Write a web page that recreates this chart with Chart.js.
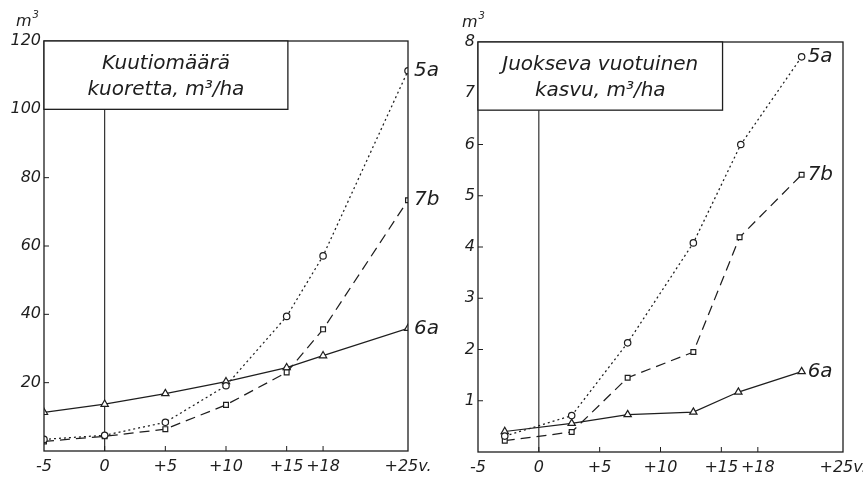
<!DOCTYPE html>
<html><head><meta charset="utf-8">
<script src="https://cdn.jsdelivr.net/npm/chart.js@4.4.1/dist/chart.umd.min.js"></script>
<style>
html,body{margin:0;padding:0;background:#fff;overflow:hidden;width:863px;height:479px}
#wrap{position:relative;width:863px;height:479px;overflow:hidden}
canvas{position:absolute;top:0}
#c1{left:0}
#c2{left:420px}
</style></head><body>
<div id="wrap">
<canvas id="c1" width="450" height="479"></canvas>
<canvas id="c2" width="443" height="479"></canvas>
</div>
<script>
// ---------- data ----------
const xTicks = [-5, 0, 5, 10, 15, 18, 25];
const xTickLabels = ['-5', '0', '+5', '+10', '+15', '+18', '+25v.'];
const seriesNames = ['5a', '7b', '6a'];

// left panel: Kuutiomäärä kuoretta, m³/ha
const leftTitle = ['Kuutiomäärä', 'kuoretta, m³/ha'];
const leftX = [-5, 0, 5, 10, 15, 18, 25];
const left5a = [3.4, 4.6, 8.4, 19.1, 39.4, 57.1, 111.3];
const left7b = [2.8, 4.3, 6.4, 13.5, 23.0, 35.6, 73.4];
const left6a = [11.3, 13.7, 16.8, 20.3, 24.4, 27.9, 35.9];
const leftYTicks = [20, 40, 60, 80, 100, 120];

// right panel: Juokseva vuotuinen kasvu, m³/ha
const rightTitle = ['Juokseva vuotuinen', 'kasvu, m³/ha'];
const rightX5a = [-2.8, 2.7, 7.3, 12.7, 16.6, 21.6];
const rightX7b = [-2.8, 2.7, 7.3, 12.7, 16.5, 21.6];
const rightX6a = [-2.8, 2.7, 7.3, 12.7, 16.4, 21.6];
const right5a = [0.31, 0.71, 2.13, 4.08, 6.0, 7.71];
const right7b = [0.22, 0.39, 1.45, 1.95, 4.19, 5.41];
const right6a = [0.40, 0.56, 0.73, 0.78, 1.17, 1.57];
const rightYTicks = [1, 2, 3, 4, 5, 6, 7, 8];

const unitLabel = 'm';
const unitSup = '3';

// ---------- styling ----------
const INK = '#1e1e1e';
const TICKFONT = {family: "'DejaVu Sans',sans-serif", size: 16, style: 'italic'};
const TEXTFONT = "italic 20px 'DejaVu Sans', sans-serif";

function pts(xs, ys) { return xs.map((x, i) => ({x: x, y: ys[i]})); }

const framePlugin = {
  id: 'frame',
  afterDraw(chart, args, o) {
    const ctx = chart.ctx, a = chart.chartArea;
    const xs = chart.scales.x, ys = chart.scales.y;
    ctx.save();
    ctx.strokeStyle = INK; ctx.lineWidth = 1.3;
    ctx.strokeRect(a.left, a.top, a.right - a.left, a.bottom - a.top);
    // inward tick marks
    ctx.lineWidth = 1;
    xs.ticks.forEach(t => {
      const px = xs.getPixelForValue(t.value);
      if (px <= a.left + 1 || px >= a.right - 1) return;
      ctx.beginPath(); ctx.moveTo(px, a.bottom); ctx.lineTo(px, a.bottom - 5); ctx.stroke();
    });
    ys.ticks.forEach(t => {
      const py = ys.getPixelForValue(t.value);
      if (py <= a.top + 1) return;
      ctx.beginPath(); ctx.moveTo(a.left, py); ctx.lineTo(a.left + 5, py); ctx.stroke();
    });
    // title box
    const b = o.box;
    const x0 = xs.getPixelForValue(b.x0), x1 = xs.getPixelForValue(b.x1);
    const y0 = ys.getPixelForValue(b.y0), y1 = ys.getPixelForValue(b.y1);
    ctx.fillStyle = '#fff';
    ctx.fillRect(x0, y1, x1 - x0, y0 - y1);
    ctx.lineWidth = 1.3;
    ctx.strokeRect(x0, y1, x1 - x0, y0 - y1);
    ctx.fillStyle = INK;
    ctx.font = TEXTFONT;
    ctx.textAlign = 'center'; ctx.textBaseline = 'middle';
    const cx = (x0 + x1) / 2, h = y0 - y1;
    o.title.forEach((line, i) => {
      ctx.fillText(line, cx, y1 + h * (i === 0 ? 0.34 : 0.72));
    });
    // series end labels
    ctx.textAlign = 'left';
    chart.data.datasets.forEach((ds, di) => {
      if (!seriesNames.includes(ds.label)) return;
      const meta = chart.getDatasetMeta(di);
      const el = meta.data[meta.data.length - 1];
      ctx.fillText(ds.label, el.x + 6, el.y);
    });
    // unit label
    ctx.font = "italic 16px 'DejaVu Sans', sans-serif";
    const ux = a.left + o.unitDx, uy = a.top - 19;
    ctx.fillText(unitLabel, ux, uy);
    const mw = ctx.measureText(unitLabel).width;
    ctx.font = "italic 10px 'DejaVu Sans', sans-serif";
    ctx.fillText(unitSup, ux + mw + 1, uy - 7);
    ctx.restore();
  }
};

function makeChart(id, data, yMax, yTicks, pad, box, title, unitDx) {
  const ds = [
    {label: '5a', data: data[0], borderDash: [2, 3], pointStyle: 'circle', pointRadius: 3.2},
    {label: '7b', data: data[1], borderDash: [10, 6], pointStyle: 'rect', pointRadius: 3.4},
    {label: '6a', data: data[2], borderDash: [], pointStyle: 'triangle', pointRadius: 4.2},
    {label: 'zero', data: [{x: 0, y: 0}, {x: 0, y: box.y0}], pointRadius: 0, borderDash: [], borderWidth: 1.1}
  ].map(d => Object.assign({
    showLine: true, borderColor: INK, borderWidth: 1.25, pointBorderColor: INK,
    pointBackgroundColor: '#fff', pointBorderWidth: 1.2, fill: false, tension: 0
  }, d));
  return new Chart(document.getElementById(id), {
    type: 'scatter',
    data: {datasets: ds},
    options: {
      responsive: false, animation: false, devicePixelRatio: 1,
      layout: {padding: {left: 0, right: pad.right, top: pad.top, bottom: 0}},
      plugins: {legend: {display: false}, tooltip: {enabled: false},
        frame: {box: box, title: title, unitDx: unitDx}},
      scales: {
        x: {
          type: 'linear', min: -5, max: 25,
          afterBuildTicks: s => { s.ticks = xTicks.map(v => ({value: v})); },
          afterFit: s => { s.height = pad.xh; s.paddingLeft = 0; s.paddingRight = 0; },
          grid: {display: false, drawTicks: false}, border: {display: false},
          ticks: {autoSkip: false, maxRotation: 0, padding: 6, color: INK, font: TICKFONT,
            callback: v => xTickLabels[xTicks.indexOf(v)]}
        },
        y: {
          type: 'linear', min: 0, max: yMax,
          afterBuildTicks: s => { s.ticks = yTicks.map(v => ({value: v})); },
          afterFit: s => { s.width = pad.left; s.paddingTop = 0; s.paddingBottom = 0; },
          grid: {display: false, drawTicks: false}, border: {display: false},
          ticks: {padding: 3, color: INK, font: TICKFONT, callback: v => String(v)}
        }
      }
    },
    plugins: [framePlugin]
  });
}

makeChart('c1', [pts(leftX, left5a), pts(leftX, left7b), pts(leftX, left6a)], 120, leftYTicks,
  {left: 44, right: 42, top: 41, xh: 28},
  {x0: -5, x1: 15.1, y0: 100, y1: 120}, leftTitle, -28);
makeChart('c2', [pts(rightX5a, right5a), pts(rightX7b, right7b), pts(rightX6a, right6a)], 8, rightYTicks,
  {left: 58, right: 20, top: 42, xh: 27},
  {x0: -5, x1: 15.1, y0: 6.67, y1: 8}, rightTitle, -16);
</script>
</body></html>
